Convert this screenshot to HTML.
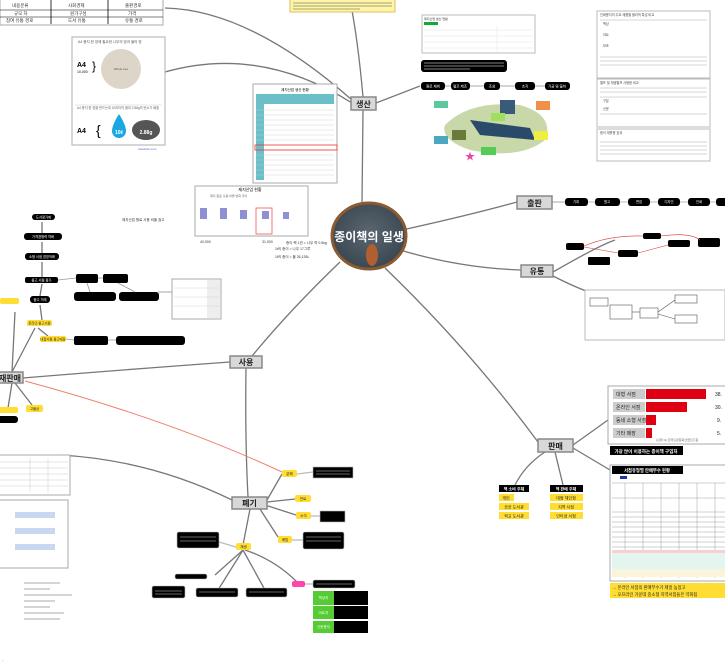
<!DOCTYPE html>
<html><head><meta charset="utf-8"><style>
html,body{margin:0;padding:0;background:#fff;width:725px;height:665px;overflow:hidden}
svg{display:block;font-family:"Liberation Sans","Noto Sans CJK KR",sans-serif}
</style></head><body>
<svg width="725" height="665" viewBox="0 0 725 665" xmlns="http://www.w3.org/2000/svg">
<defs>
<radialGradient id="cg" cx="50%" cy="45%" r="55%"><stop offset="0" stop-color="#5a6670"/><stop offset="1" stop-color="#3a4650"/></radialGradient>
</defs>
<!-- connectors -->
<g fill="none" stroke="#777" stroke-width="1.3">
<path d="M362 203 L363 110"/>
<path d="M363 97 Q358 40 350 0"/>
<path d="M352 100 Q250 10 165 8"/>
<path d="M352 103 Q260 45 165 72"/>
<path d="M376 103 L420 86"/>
<path d="M402 230 Q470 215 517 202"/>
<path d="M400 250 Q460 268 521 270"/>
<path d="M385 268 Q470 350 538 442"/>
<path d="M340 262 Q290 310 252 356"/>
<path d="M246 368 Q245 440 248 497"/>
<path d="M230 362 Q120 370 23 378"/>
<path d="M232 500 Q150 460 60 455"/>
<path d="M573 445 L608 420"/>
<path d="M573 448 L610 470"/>
<path d="M545 452 Q525 465 515 485"/>
<path d="M555 452 L563 485"/>
<path d="M267 500 L282 474"/>
<path d="M267 502 L295 499"/>
<path d="M265 505 L296 515"/>
<path d="M260 509 L278 537"/>
<path d="M250 509 L243 545"/>
<path d="M243 550 L215 575"/>
<path d="M243 550 L218 590"/>
<path d="M243 550 L265 590"/>
<path d="M245 550 Q275 560 297 582"/>
<path d="M12 372 L15 312"/>
<path d="M12 372 L35 328"/>
<path d="M12 383 L8 408"/>
<path d="M15 383 L32 405"/>
<path d="M42 320 L40 305"/>
<path d="M40 296 L42 284"/>
<path d="M42 278 L42 262"/>
<path d="M42 253 L42 242"/>
<path d="M42 233 L42 222"/>
<path d="M38 328 L48 336"/>
<path d="M553 272 Q600 245 615 240"/>
<path d="M553 276 Q600 300 625 300"/>
</g>
<path d="M25 381 Q170 420 282 472" fill="none" stroke="#f08070" stroke-width="1"/>
<g stroke="#bbb" stroke-width="1.3">
<line x1="445" y1="86" x2="451" y2="86"/><line x1="470" y1="86" x2="484" y2="86"/><line x1="500" y1="86" x2="515" y2="86"/><line x1="535" y1="86" x2="545" y2="86"/>
<line x1="552" y1="202" x2="565" y2="202"/>
<line x1="297" y1="474" x2="313" y2="472"/><line x1="310" y1="516" x2="320" y2="516"/><line x1="292" y1="540" x2="303" y2="540"/><line x1="236" y1="547" x2="219" y2="542"/><line x1="305" y1="584" x2="313" y2="584"/>
<line x1="158" y1="292" x2="172" y2="292"/>
</g>

<!-- center circle -->
<ellipse cx="369" cy="236" rx="37" ry="33" fill="url(#cg)" stroke="#8a5a30" stroke-width="3"/>
<ellipse cx="372" cy="255" rx="6" ry="11" fill="#b06030"/>
<text x="369" y="241" text-anchor="middle" font-size="12" font-weight="bold" fill="#fff">종이책의 일생</text>

<!-- main topic boxes -->
<g font-size="8" font-weight="bold" text-anchor="middle" fill="#222">
<rect x="351" y="97" width="25" height="13" fill="#d8d8d8" stroke="#888" stroke-width="1.5"/><text x="363.5" y="107">생산</text>
<rect x="517" y="196" width="35" height="13" fill="#d8d8d8" stroke="#888" stroke-width="1.5"/><text x="534.5" y="206">출판</text>
<rect x="521" y="265" width="32" height="12" fill="#d8d8d8" stroke="#888" stroke-width="1.5"/><text x="537" y="274">유통</text>
<rect x="230" y="356" width="32" height="12" fill="#d8d8d8" stroke="#888" stroke-width="1.5"/><text x="246" y="365">사용</text>
<rect x="538" y="439" width="35" height="13" fill="#d8d8d8" stroke="#888" stroke-width="1.5"/><text x="555.5" y="449">판매</text>
<rect x="232" y="497" width="35" height="12" fill="#d8d8d8" stroke="#888" stroke-width="1.5"/><text x="249.5" y="506">폐기</text>
<rect x="-4" y="372" width="27" height="11" fill="#d8d8d8" stroke="#888" stroke-width="1.5"/><text x="10" y="381">재판매</text>
</g>

<!-- top-left table -->
<rect x="0" y="-2" width="163" height="27" fill="#fff" stroke="#aaa"/>
<rect x="0" y="-2" width="163" height="2" fill="#9c6"/>
<line x1="0" y1="10" x2="163" y2="10" stroke="#000" stroke-width=".6"/><line x1="0" y1="17" x2="163" y2="17" stroke="#000" stroke-width=".6"/>
<line x1="51" y1="0" x2="51" y2="24" stroke="#000" stroke-width=".8"/><line x1="108" y1="0" x2="108" y2="24" stroke="#000" stroke-width=".8"/>
<g font-size="4.5" fill="#333"><text x="12" y="7">내용분류</text><text x="68" y="7">사회경제</text><text x="125" y="7">출판경로</text><text x="14" y="15">규모 차</text><text x="70" y="15">원가구성</text><text x="128" y="15">가격</text><text x="6" y="22">참여 유통 경로</text><text x="68" y="22">도서 유통</text><text x="125" y="22">유통 경로</text></g>

<!-- A4 image -->
<rect x="72" y="37" width="93" height="108" fill="#fff" stroke="#bbb" stroke-width="1.2"/>
<text x="78" y="43" font-size="3.5" fill="#555">A4 용지 한 장에 필요한 나무의 양과 물의 양</text>
<text x="77" y="67" font-size="7" font-weight="bold">A4</text><text x="77" y="73" font-size="3.5">10,000</text>
<text x="92" y="70" font-size="12">}</text>
<circle cx="121" cy="69" r="20" fill="#ddd6c8"/>
<text x="121" y="70" font-size="3" text-anchor="middle" fill="#555">Whole tree</text>
<line x1="75" y1="105" x2="162" y2="105" stroke="#ccc" stroke-width=".5"/>
<text x="77" y="109" font-size="3.2" fill="#666">A4 용지 한 장을 만드는데 10리터의 물과 2.88g의 탄소가 배출</text>
<text x="77" y="133" font-size="7" font-weight="bold">A4</text>
<text x="96" y="135" font-size="14">{</text>
<path d="M119 114 Q112 125 112 131 A7 7 0 0 0 126 131 Q126 125 119 114Z" fill="#19a8e0"/>
<text x="119" y="134" font-size="5" text-anchor="middle" fill="#fff" font-weight="bold">10ℓ</text>
<ellipse cx="146" cy="130" rx="14" ry="10" fill="#555"/>
<text x="146" y="134" font-size="5" text-anchor="middle" fill="#fff" font-weight="bold">2.88g</text>
<text x="138" y="150" font-size="3" fill="#46c">treeclinic.com</text>

<!-- teal table -->
<rect x="253" y="84" width="84" height="99" fill="#fff" stroke="#aaa"/>
<rect x="256" y="94" width="8" height="86" fill="#6bbfc8"/>
<rect x="256" y="94" width="78" height="10" fill="#6bbfc8"/>
<g stroke="#ccc" stroke-width=".4">
<line x1="256" y1="110" x2="334" y2="110"/><line x1="256" y1="115" x2="334" y2="115"/><line x1="256" y1="120" x2="334" y2="120"/><line x1="256" y1="125" x2="334" y2="125"/><line x1="256" y1="130" x2="334" y2="130"/><line x1="256" y1="135" x2="334" y2="135"/><line x1="256" y1="140" x2="334" y2="140"/><line x1="256" y1="150" x2="334" y2="150"/><line x1="256" y1="155" x2="334" y2="155"/><line x1="256" y1="160" x2="334" y2="160"/><line x1="256" y1="165" x2="334" y2="165"/><line x1="256" y1="170" x2="334" y2="170"/><line x1="256" y1="175" x2="334" y2="175"/>
</g>
<rect x="255" y="145" width="82" height="5" fill="none" stroke="#e33" stroke-width=".8"/>
<text x="295" y="91" font-size="3.5" text-anchor="middle">제지산업 생산 현황</text>

<!-- chart card -->
<rect x="195" y="186" width="113" height="50" fill="#fff" stroke="#aaa"/>
<text x="250" y="191" font-size="4" text-anchor="middle">제지산업 현황</text>
<text x="210" y="197" font-size="3" fill="#666">제지 원료 사용 비율 변화 추이</text>
<g fill="#8f8fd4"><rect x="200" y="208" width="7" height="11"/><rect x="220" y="208" width="7" height="11"/><rect x="240" y="210" width="7" height="9"/><rect x="262" y="211" width="7" height="8"/><rect x="283" y="212" width="6" height="7"/></g>
<rect x="256" y="208" width="16" height="26" fill="none" stroke="#e55" stroke-width=".8"/>
<g font-size="3.5" fill="#333"><text x="286" y="244">종이 책 1권 = 나무 약 0.5kg</text><text x="275" y="250">1t의 종이 = 나무 17그루</text><text x="275" y="258">1t의 종이 = 물 26,135L</text><text x="122" y="221">제지산업 원료 사용 비율 참고</text><text x="200" y="243">40,000</text><text x="262" y="243">31,000</text></g>

<!-- top middle yellow note -->
<rect x="290" y="-2" width="105" height="14" fill="#fff4a8" stroke="#d8c060"/>
<g stroke="#886" stroke-width=".8"><line x1="293" y1="3" x2="392" y2="3"/><line x1="293" y1="6" x2="392" y2="6"/><line x1="293" y1="9" x2="360" y2="9"/></g>

<!-- small table top -->
<rect x="422" y="15" width="113" height="38" fill="#fff" stroke="#bbb"/>
<rect x="424" y="22" width="14" height="3" fill="#1a3"/>
<text x="424" y="20" font-size="3" fill="#333">제지산업 생산 현황</text>
<g stroke="#ddd" stroke-width=".4"><line x1="424" y1="30" x2="533" y2="30"/><line x1="424" y1="36" x2="533" y2="36"/><line x1="424" y1="42" x2="533" y2="42"/><line x1="424" y1="48" x2="533" y2="48"/><line x1="497" y1="26" x2="497" y2="52"/></g>

<!-- black note -->
<rect x="421" y="60" width="86" height="12" rx="3" fill="#000"/>
<g stroke="#fff" stroke-width=".5"><line x1="424" y1="63" x2="504" y2="63"/><line x1="424" y1="66" x2="504" y2="66"/><line x1="424" y1="69" x2="470" y2="69"/></g>

<!-- pills row under 생산 -->
<g fill="#000"><rect x="421" y="82" width="24" height="8" rx="3"/><rect x="451" y="82" width="19" height="8" rx="3"/><rect x="484" y="82" width="16" height="8" rx="3"/><rect x="515" y="82" width="20" height="8" rx="3"/><rect x="545" y="82" width="25" height="8" rx="3"/></g>
<g font-size="3.5" fill="#fff" text-anchor="middle"><text x="433" y="87.5">원료 채취</text><text x="460" y="87.5">펄프 제조</text><text x="492" y="87.5">조성</text><text x="525" y="87.5">초지</text><text x="557" y="87.5">가공 및 출하</text></g>

<!-- process image -->
<path d="M445 125 Q470 100 520 105 Q555 115 545 140 Q520 160 470 150 Q440 140 445 125Z" fill="#c8d8a8"/>
<path d="M470 120 L530 128 L535 140 L480 135Z" fill="#2a4a6a"/>
<rect x="500" y="100" width="15" height="14" fill="#3a5a7a"/>
<rect x="452" y="130" width="14" height="10" fill="#6a7a3a"/>
<rect x="536" y="101" width="14" height="9" fill="#f0904a"/><rect x="491" y="113" width="14" height="8" fill="#a0e060"/><rect x="434" y="101" width="14" height="7" fill="#5cc8a0"/><rect x="434" y="136" width="14" height="8" fill="#4aa8c0"/><rect x="481" y="147" width="15" height="8" fill="#5c5"/><rect x="534" y="131" width="14" height="9" fill="#ee4"/>
<text x="470" y="160" font-size="10" fill="#e4a" text-anchor="middle">★</text>

<!-- right panels top -->
<rect x="597" y="11" width="113" height="67" fill="#fff" stroke="#bbb"/>
<rect x="597" y="79" width="113" height="48" fill="#fff" stroke="#bbb"/>
<rect x="597" y="129" width="113" height="32" fill="#fff" stroke="#bbb"/>
<g stroke="#999" stroke-width=".4">
<line x1="600" y1="20" x2="707" y2="20"/><line x1="600" y1="57" x2="707" y2="57"/><line x1="600" y1="61" x2="707" y2="61"/><line x1="600" y1="65" x2="707" y2="65"/>
<line x1="600" y1="88" x2="707" y2="88"/><line x1="600" y1="92" x2="707" y2="92"/><line x1="600" y1="97" x2="707" y2="97"/><line x1="600" y1="114" x2="707" y2="114"/>
<line x1="600" y1="142" x2="707" y2="142"/><line x1="600" y1="146" x2="707" y2="146"/><line x1="600" y1="150" x2="707" y2="150"/><line x1="600" y1="154" x2="707" y2="154"/>
</g>
<g font-size="3.2" fill="#444"><text x="600" y="16">인쇄용지의 주요 제품별 물리적 특성 비교</text><text x="600" y="84">펄프 및 재생펄프 사용량 비교</text><text x="600" y="134">종이 재활용 효과</text>
<text x="603" y="25">백상</text><text x="603" y="36">아트</text><text x="603" y="47">모조</text><text x="603" y="102">구분</text><text x="603" y="110">신문</text></g>

<!-- 출판 pills -->
<g fill="#000"><rect x="565" y="198" width="23" height="8" rx="3"/><rect x="595" y="198" width="25" height="8" rx="3"/><rect x="628" y="198" width="22" height="8" rx="3"/><rect x="658" y="198" width="22" height="8" rx="3"/><rect x="688" y="198" width="22" height="8" rx="3"/><rect x="716" y="198" width="12" height="8" rx="3"/></g>
<g stroke="#bbb"><line x1="588" y1="202" x2="595" y2="202"/><line x1="620" y1="202" x2="628" y2="202"/><line x1="650" y1="202" x2="658" y2="202"/><line x1="680" y1="202" x2="688" y2="202"/><line x1="710" y1="202" x2="716" y2="202"/></g>
<g font-size="3.3" fill="#fff" text-anchor="middle"><text x="576" y="203">기획</text><text x="607" y="203">원고</text><text x="639" y="203">편집</text><text x="669" y="203">디자인</text><text x="699" y="203">인쇄</text></g>

<!-- 유통 diagram -->
<g fill="#000"><rect x="566" y="243" width="18" height="7" rx="2"/><rect x="618" y="250" width="20" height="7" rx="2"/><rect x="668" y="240" width="22" height="7" rx="2"/><rect x="588" y="257" width="22" height="8" rx="1"/><rect x="643" y="233" width="18" height="6" rx="2"/><rect x="698" y="238" width="22" height="9" rx="2"/></g>
<g fill="none" stroke="#d33" stroke-width=".6"><path d="M584 246 Q610 235 643 236"/><path d="M661 236 Q690 232 700 240"/><path d="M638 253 L668 245"/><path d="M584 247 L618 253"/></g>
<rect x="585" y="290" width="140" height="50" fill="#fff" stroke="#bbb"/>
<g fill="none" stroke="#555" stroke-width=".6"><rect x="590" y="298" width="18" height="8"/><rect x="610" y="305" width="22" height="14"/><rect x="640" y="308" width="18" height="10"/><rect x="675" y="295" width="22" height="8"/><rect x="675" y="315" width="22" height="8"/><line x1="632" y1="312" x2="640" y2="312"/><line x1="658" y1="312" x2="675" y2="300"/><line x1="658" y1="314" x2="675" y2="319"/></g>

<!-- bar chart panel -->
<rect x="608" y="386" width="120" height="58" fill="#fff" stroke="#aaa"/>
<g fill="#ccc"><rect x="613" y="389" width="32" height="10"/><rect x="613" y="402" width="32" height="10"/><rect x="613" y="415" width="32" height="10"/><rect x="613" y="428" width="32" height="10"/></g>
<g fill="#e00014"><rect x="646" y="389" width="60" height="10"/><rect x="646" y="402" width="41" height="10"/><rect x="646" y="415" width="10" height="10"/><rect x="646" y="428" width="6" height="10"/></g>
<g font-size="5" fill="#222"><text x="616" y="396">대형 서점</text><text x="616" y="409">온라인 서점</text><text x="616" y="422">동네 소형 서점</text><text x="616" y="435">기타 매장</text><text x="715" y="396">38.</text><text x="715" y="409">30.</text><text x="717" y="422">9.</text><text x="717" y="435">5.</text></g>
<text x="656" y="441" font-size="3" fill="#666">(단위:%) 한국출판문화산업진흥원</text>
<rect x="610" y="446" width="73" height="9" fill="#000"/>
<text x="646" y="453" font-size="4.5" fill="#fff" text-anchor="middle" font-weight="bold">가장 많이 이용하는 종이책 구입처</text>

<!-- big table panel -->
<rect x="610" y="465" width="120" height="116" fill="#fff" stroke="#aaa"/>
<rect x="612" y="466" width="71" height="8" fill="#000"/>
<text x="647" y="472" font-size="4.3" fill="#fff" text-anchor="middle" font-weight="bold">서점유형별 판매부수 현황</text>
<rect x="620" y="476" width="7" height="3" fill="#23a"/>
<g stroke="#888" stroke-width=".4"><line x1="612" y1="483" x2="728" y2="483"/><line x1="612" y1="498" x2="728" y2="498"/><line x1="612" y1="512" x2="728" y2="512"/>
<line x1="612" y1="517" x2="728" y2="517"/><line x1="612" y1="522" x2="728" y2="522"/><line x1="612" y1="527" x2="728" y2="527"/><line x1="612" y1="532" x2="728" y2="532"/><line x1="612" y1="537" x2="728" y2="537"/><line x1="612" y1="542" x2="728" y2="542"/><line x1="612" y1="547" x2="728" y2="547"/>
<line x1="625" y1="483" x2="625" y2="578"/><line x1="643" y1="483" x2="643" y2="578"/><line x1="661" y1="483" x2="661" y2="578"/><line x1="679" y1="483" x2="679" y2="578"/><line x1="697" y1="483" x2="697" y2="578"/><line x1="715" y1="483" x2="715" y2="578"/></g>
<rect x="612" y="550" width="116" height="3" fill="#f8d0d0"/>
<rect x="612" y="553" width="116" height="16" fill="#e4f4ee"/>
<rect x="612" y="569" width="116" height="8" fill="#fbf4dc"/>
<rect x="610" y="583" width="118" height="15" fill="#fd3"/>
<g font-size="4.3" fill="#222"><text x="612" y="589">→ 온라인 서점의 판매부수가 제일 높았고</text><text x="612" y="596">→ 오프라인 가운데 중소형 지역서점들은 약화됨</text></g>

<!-- 판매 children -->
<rect x="499" y="485" width="30" height="7" fill="#000"/><text x="514" y="490.5" font-size="4" fill="#fff" text-anchor="middle" font-weight="bold">책 소비 주체</text>
<rect x="550" y="485" width="33" height="7" fill="#000"/><text x="566" y="490.5" font-size="4" fill="#fff" text-anchor="middle" font-weight="bold">책 판매 주체</text>
<g fill="#fd3"><rect x="499" y="494" width="15" height="7"/><rect x="499" y="503" width="30" height="7"/><rect x="499" y="512" width="30" height="7"/><rect x="550" y="494" width="33" height="7"/><rect x="550" y="503" width="33" height="7"/><rect x="550" y="512" width="33" height="7"/></g>
<g font-size="4" fill="#222" text-anchor="middle"><text x="506" y="499.5">개인</text><text x="514" y="508.5">공공 도서관</text><text x="514" y="517.5">학교 도서관</text><text x="566" y="499.5">대형 체인점</text><text x="566" y="508.5">지역 서점</text><text x="566" y="517.5">인터넷 서점</text></g>

<!-- 폐기 children -->
<g fill="#fd3"><rect x="282" y="470" width="15" height="7" rx="2"/><rect x="295" y="495" width="16" height="7" rx="2"/><rect x="296" y="512" width="15" height="7" rx="2"/><rect x="278" y="536" width="14" height="7" rx="2"/><rect x="236" y="543" width="15" height="7" rx="2"/></g>
<g font-size="3.5" fill="#222" text-anchor="middle"><text x="289.5" y="475">분해</text><text x="303" y="500">연료</text><text x="303.5" y="517">소각</text><text x="285" y="541">매립</text><text x="243.5" y="548">재생</text></g>
<rect x="292" y="581" width="13" height="6" rx="2" fill="#f4a"/>
<g fill="#000" stroke="#bbb" stroke-width=".6"><rect x="313" y="467" width="40" height="11"/><rect x="320" y="511" width="25" height="11"/><rect x="303" y="532" width="41" height="17" rx="2"/><rect x="177" y="532" width="42" height="16" rx="2"/><rect x="175" y="574" width="32" height="5" rx="2"/><rect x="152" y="586" width="33" height="12" rx="2"/><rect x="196" y="588" width="42" height="9" rx="2"/><rect x="246" y="588" width="41" height="9" rx="2"/><rect x="313" y="580" width="42" height="8" rx="2"/></g>
<g stroke="#fff" stroke-width=".4"><line x1="316" y1="471" x2="350" y2="471"/><line x1="316" y1="474" x2="350" y2="474"/><line x1="306" y1="537" x2="341" y2="537"/><line x1="306" y1="541" x2="341" y2="541"/><line x1="180" y1="537" x2="216" y2="537"/><line x1="180" y1="541" x2="216" y2="541"/><line x1="155" y1="591" x2="182" y2="591"/><line x1="155" y1="594" x2="182" y2="594"/><line x1="199" y1="592" x2="235" y2="592"/><line x1="249" y1="592" x2="284" y2="592"/><line x1="316" y1="584" x2="352" y2="584"/></g>
<g><rect x="313" y="591" width="21" height="14" fill="#5c3"/><rect x="334" y="591" width="34" height="14" fill="#000"/><rect x="313" y="606" width="21" height="13" fill="#5c3"/><rect x="334" y="606" width="34" height="13" fill="#000"/><rect x="313" y="621" width="21" height="12" fill="#5c3"/><rect x="334" y="621" width="34" height="12" fill="#000"/></g>
<g font-size="3.5" fill="#fff" text-anchor="middle"><text x="323.5" y="599">백상지</text><text x="323.5" y="614">아트지</text><text x="323.5" y="628">신문용지</text></g>

<!-- left side pills -->
<g fill="#000"><rect x="32" y="214" width="23" height="6" rx="3"/><rect x="24" y="233" width="38" height="7" rx="3"/><rect x="25" y="253" width="34" height="7" rx="3"/><rect x="25" y="277" width="33" height="6" rx="2"/><rect x="30" y="296" width="20" height="7" rx="3"/><rect x="76" y="274" width="22" height="9" rx="2"/><rect x="103" y="274" width="25" height="9" rx="2"/><rect x="74" y="292" width="42" height="9" rx="3"/><rect x="119" y="292" width="40" height="9" rx="3"/><rect x="74" y="336" width="34" height="9" rx="2"/><rect x="116" y="336" width="69" height="9" rx="3"/><rect x="-5" y="416" width="23" height="7" rx="3"/></g>
<g fill="#fd3"><rect x="27" y="320" width="25" height="6" rx="2"/><rect x="40" y="336" width="26" height="6" rx="2"/><rect x="0" y="298" width="19" height="6" rx="2"/><rect x="-5" y="407" width="23" height="6" rx="2"/><rect x="26" y="405" width="17" height="7" rx="2"/></g>
<g font-size="3.3" fill="#fff" text-anchor="middle"><text x="43.5" y="218.5">도서정가제</text><text x="43" y="238">가격경쟁력 약화</text><text x="42" y="258">소형 서점 경영악화</text><text x="41.5" y="281.5">중고 서점 증가</text><text x="40" y="301">중고 거래</text></g>
<g font-size="3.3" fill="#222" text-anchor="middle"><text x="39.5" y="324.5">온라인 중고서점</text><text x="53" y="340.5">대형서점 중고매장</text><text x="34.5" y="410">고물상</text></g>
<g fill="none" stroke="#999" stroke-width=".8"><line x1="58" y1="280" x2="76" y2="278"/><line x1="98" y1="278" x2="103" y2="278"/><line x1="87" y1="283" x2="90" y2="292"/><line x1="118" y1="283" x2="135" y2="292"/><line x1="66" y1="339" x2="74" y2="340"/><line x1="108" y1="340" x2="116" y2="340"/></g>
<rect x="172" y="279" width="49" height="40" fill="#fff" stroke="#aaa"/>
<rect x="207" y="280" width="13" height="38" fill="#eee"/>
<g stroke="#ccc" stroke-width=".4"><line x1="174" y1="288" x2="219" y2="288"/><line x1="174" y1="297" x2="219" y2="297"/><line x1="174" y1="306" x2="219" y2="306"/></g>

<!-- bottom-left panels -->
<rect x="-2" y="455" width="72" height="40" fill="#fff" stroke="#aaa"/>
<g stroke="#bbb" stroke-width=".4"><line x1="0" y1="462" x2="68" y2="462"/><line x1="0" y1="468" x2="68" y2="468"/><line x1="0" y1="474" x2="68" y2="474"/><line x1="0" y1="480" x2="68" y2="480"/><line x1="0" y1="486" x2="68" y2="486"/><line x1="30" y1="458" x2="30" y2="492"/><line x1="48" y1="458" x2="48" y2="492"/></g>
<rect x="-2" y="500" width="70" height="68" fill="#fff" stroke="#aaa"/>
<g fill="#c8d8f0"><rect x="15" y="512" width="40" height="6"/><rect x="15" y="528" width="40" height="6"/><rect x="15" y="544" width="40" height="6"/></g>
<g stroke="#555" stroke-width=".6"><line x1="24" y1="583" x2="60" y2="583"/><line x1="24" y1="589" x2="50" y2="589"/><line x1="24" y1="595" x2="72" y2="595"/><line x1="24" y1="601" x2="55" y2="601"/><line x1="24" y1="607" x2="50" y2="607"/><line x1="24" y1="613" x2="64" y2="613"/><line x1="24" y1="619" x2="60" y2="619"/></g>
<text x="2" y="662" font-size="4" fill="#999">▫</text>
</svg>
</body></html>
